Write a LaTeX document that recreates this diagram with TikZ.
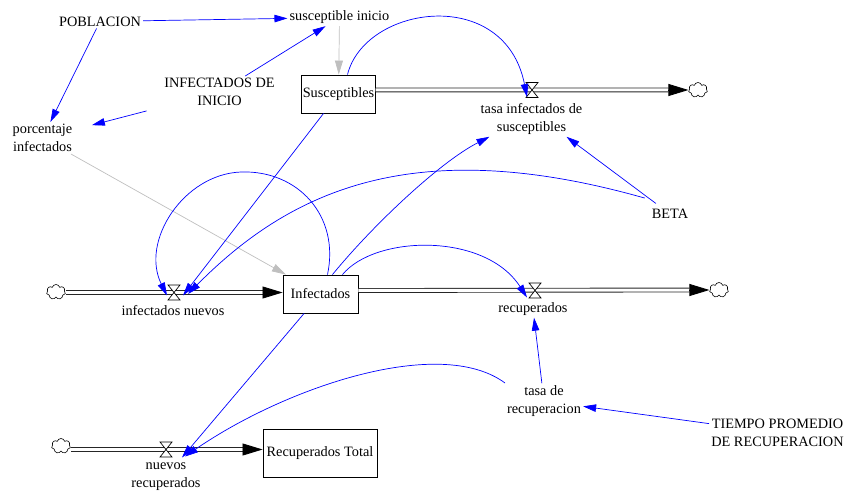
\documentclass[tikz,border=0pt]{standalone}
\usepackage{fontspec}
\setmainfont{Liberation Serif}
\usetikzlibrary{arrows.meta,shapes.symbols}
\begin{document}
\begin{tikzpicture}[x=1pt,y=-1pt,
    every node/.style={font=\fontsize{14.3}{18}\selectfont, inner sep=2pt},
    nivel/.style={draw, line width=0.9pt, minimum height=38pt, inner sep=1pt},
    aux/.style={align=center},
    link/.style={blue, line width=0.7pt, -{Triangle[length=13pt,width=7.5pt]}},
    gris/.style={black!25, line width=0.7pt, -{Triangle[length=14pt,width=8pt]}},
    tubo/.style={draw=black!85, line width=0.9pt, double=white, double distance=3pt},
    punta/.style={line width=0.8pt, -{Triangle[length=20pt,width=12pt]}},
    nube/.style={cloud, cloud puffs=7, draw, fill=white, line width=0.6pt, minimum width=19pt, minimum height=15pt, inner sep=0pt},
    valvula/.pic={\draw[fill=white, line width=0.7pt] (-6,-7.5) -- (6,-7.5) -- (-6,7.5) -- (6,7.5) -- cycle;}]
  \useasboundingbox (0,0) rectangle (846,494);

  \node[aux] (pob) at (100,21.5) {POBLACION};
  \node[aux] (susini) at (339.5,17.5) {susceptible inicio};
  \node[aux] (inidini) at (219.5,92) {INFECTADOS DE\\INICIO};
  \node[aux] (porc) at (42.5,138) {porcentaje\\infectados};
  \node[nivel, minimum width=73pt] (Susc) at (338.5,94) {Susceptibles};
  \node[aux] (tis) at (531.5,119) {tasa infectados de\\susceptibles};
  \node[aux] (beta) at (670,214) {BETA};
  \node[nivel, minimum width=75pt] (Inf) at (320.5,294) {Infectados};
  \node[aux] (infnue) at (173,311) {infectados nuevos};
  \node[aux] (reclab) at (533,309) {recuperados};
  \node[aux] (tdr) at (544,401) {tasa de\\recuperacion};
  \node[aux] (tiempo) at (777.5,433) {TIEMPO PROMEDIO\\DE RECUPERACION};
  \node[nivel, minimum width=114pt, minimum height=48pt] (RT) at (320,453) {Recuperados Total};
  \node[aux] (nuerec) at (166,477) {nuevos\\recuperados};

  \coordinate (vtis) at (532,90);
  \coordinate (vin) at (174,292.5);
  \coordinate (vrec) at (535,290.5);
  \coordinate (vnr) at (166,449.5);
  \node[nube] (cr1) at (698,90) {};
  \node[nube] (cl2) at (56,292) {};
  \node[nube] (cr2) at (719,290) {};
  \node[nube] (cl3) at (61,446) {};
  \coordinate (ps) at (Susc.east |- vtis);
  \coordinate (pin) at (Inf.west |- vin);
  \coordinate (pout) at (Inf.east |- vrec);
  \coordinate (prt) at (RT.west |- vnr);

  \draw[tubo] (ps) -- ([xshift=-20pt]cr1.west);
  \draw[punta] ([xshift=-20pt]cr1.west) -- (cr1.west);
  \draw[tubo] (cl2.east |- vin) -- ([xshift=-20pt]pin);
  \draw[punta] ([xshift=-20pt]pin) -- (pin);
  \draw[tubo] (pout) -- ([xshift=-20pt]cr2.west);
  \draw[punta] ([xshift=-20pt]cr2.west) -- (cr2.west);
  \draw[tubo] (cl3.east |- vnr) -- ([xshift=-20pt]prt);
  \draw[punta] ([xshift=-20pt]prt) -- (prt);
  \pic at (vtis) {valvula};
  \pic at (vin) {valvula};
  \pic at (vrec) {valvula};
  \pic at (vnr) {valvula};

  \draw[link] (pob) -- (susini);
  \draw[link] (pob) -- (porc);
  \draw[link] (inidini) -- (susini);
  \draw[link, shorten <=16pt, shorten >=18pt] (inidini) -- (porc);
  \draw[gris] (susini) -- (Susc);
  \draw[gris] (porc) -- (Inf);
  \draw[link] ([xshift=9pt]Susc.north) .. controls (365,5) and (505,-15) .. ([shift={(-5pt,-7pt)}]vtis);
  \draw[link] (Susc) -- ([shift={(9pt,-3pt)}]vin);
  \draw[link] ([xshift=7pt]Inf.north) .. controls (340,216) and (298,170) .. (241,172) .. controls (184,174) and (140,241) .. ([shift={(-7pt,-3pt)}]vin);
  \draw[link] ([shift={(-5pt,9pt)}]beta.north west) .. controls (415,133) and (291,190) .. ([shift={(14pt,-1.5pt)}]vin);
  \draw[link, shorten <=6pt] (beta) -- ([xshift=35pt]tis.south);
  \draw[link] ([xshift=12pt]Inf.north) .. controls (373,225) and (440,162) .. ([xshift=11pt]tis.south west);
  \draw[link] ([xshift=22pt]Inf.north) .. controls (375,235) and (485,232) .. ([shift={(-8pt,-7pt)}]vrec);
  \draw[link] (tdr) -- (reclab);
  \draw[link] (tiempo) -- (tdr);
  \draw[link] (Inf) -- ([shift={(16pt,-8pt)}]vnr);
  \draw[link] ([shift={(-39pt,18pt)}]tdr.center) .. controls (440,335) and (286,387) .. ([shift={(19pt,-7pt)}]vnr);
\end{tikzpicture}
\end{document}
